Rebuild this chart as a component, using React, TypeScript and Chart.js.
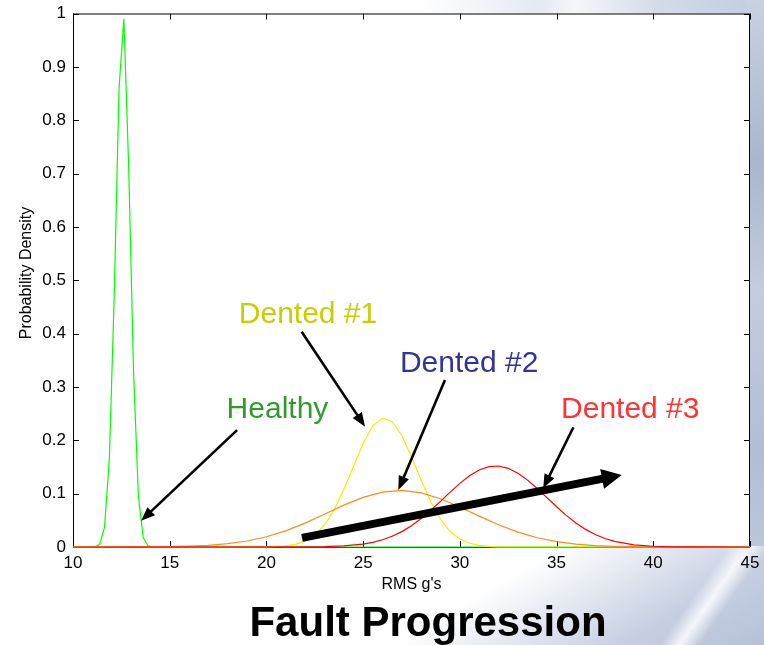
import { useEffect, useRef } from 'react';
import { Chart, registerables } from 'chart.js';

Chart.register(...registerables);

const FONT = "'Liberation Sans', Arial, Helvetica, sans-serif";

// Axis ticks
const xTicks = [10, 15, 20, 25, 30, 35, 40, 45];
const yTicks = [0, 0.1, 0.2, 0.3, 0.4, 0.5, 0.6, 0.7, 0.8, 0.9, 1];
const yTickLabels = ['0', '0.1', '0.2', '0.3', '0.4', '0.5', '0.6', '0.7', '0.8', '0.9', '1'];

// Probability density of RMS g's for each bearing condition
const healthyX = [10, 11.13, 11.38, 11.63, 11.88, 12.13, 12.38, 12.63, 12.88, 13.13, 13.38, 13.63, 13.88, 14.13, 45];
const healthyY = [0, 0, 0.005, 0.037, 0.166, 0.47, 0.86, 0.99, 0.71, 0.33, 0.095, 0.018, 0.002, 0, 0];

const dented1X = [10, 20, 21, 21.5, 22, 22.5, 23, 23.5, 24, 24.5, 25, 25.5, 26, 26.5, 27, 27.5, 28, 28.5, 29, 29.5, 30, 30.5, 31, 31.5, 32, 45];
const dented1Y = [0, 0, 0.002, 0.005, 0.011, 0.022, 0.041, 0.07, 0.108, 0.151, 0.194, 0.227, 0.2415, 0.235, 0.209, 0.169, 0.125, 0.084, 0.052, 0.029, 0.015, 0.007, 0.003, 0.001, 0, 0];

const dented2X = [10, 13, 14, 15, 16, 17, 18, 19, 20, 21, 22, 23, 24, 25, 26, 27, 28, 29, 30, 31, 32, 33, 34, 35, 36, 37, 38, 39, 40, 41, 45];
const dented2Y = [0, 0.0001, 0.0003, 0.0007, 0.0015, 0.0031, 0.0062, 0.0113, 0.0192, 0.0303, 0.0447, 0.0614, 0.0784, 0.0931, 0.103, 0.106, 0.1015, 0.0904, 0.075, 0.0579, 0.0416, 0.0278, 0.0173, 0.01, 0.0054, 0.0027, 0.0013, 0.0006, 0.0002, 0.0001, 0];

const dented3X = [10, 22, 23, 24, 25, 25.5, 26, 26.5, 27, 27.5, 28, 28.5, 29, 29.5, 30, 30.5, 31, 31.5, 32, 32.5, 33, 33.5, 34, 34.5, 35, 35.5, 36, 36.5, 37, 37.5, 38, 39, 40, 41, 42, 45];
const dented3Y = [0, 0.0002, 0.0006, 0.002, 0.0055, 0.0088, 0.0135, 0.0201, 0.0288, 0.0399, 0.0533, 0.0688, 0.0856, 0.1029, 0.1193, 0.1336, 0.1444, 0.1507, 0.1518, 0.1475, 0.1384, 0.1254, 0.1096, 0.0925, 0.0754, 0.0593, 0.045, 0.033, 0.0233, 0.0159, 0.0105, 0.0041, 0.0014, 0.0004, 0.0001, 0];

// Callout labels (data coordinates: centre x, baseline y)
const labelText = ['Healthy', 'Dented #1', 'Dented #2', 'Dented #3'];
const labelX = [20.57, 22.15, 30.48, 38.81];
const labelY = [0.2418, 0.42, 0.3286, 0.2412];
const labelColor = ['#339a2e', '#c6d000', '#333399', '#ff3333'];

// Callout arrows, tail -> head (data coordinates)
const arrowX1 = [18.48, 21.82, 29.23, 35.87];
const arrowY1 = [0.219, 0.4036, 0.313, 0.2244];
const arrowX2 = [13.52, 25.1, 26.82, 34.31];
const arrowY2 = [0.049, 0.2255, 0.107, 0.11];

// Fault progression trend arrow
const trendX = [21.84, 38.37];
const trendY = [0.017, 0.135];

const toPoints = (xs: number[], ys: number[]) => xs.map((x, i) => ({ x, y: ys[i] }));

function drawArrow(
  ctx: CanvasRenderingContext2D,
  x1: number, y1: number, x2: number, y2: number,
  width: number, headLen: number, headHalf: number,
) {
  const ang = Math.atan2(y2 - y1, x2 - x1);
  const bx = x2 - headLen * Math.cos(ang);
  const by = y2 - headLen * Math.sin(ang);
  ctx.save();
  ctx.strokeStyle = '#000';
  ctx.fillStyle = '#000';
  ctx.lineWidth = width;
  ctx.lineCap = 'butt';
  ctx.beginPath();
  ctx.moveTo(x1, y1);
  ctx.lineTo(bx + Math.cos(ang) * 1, by + Math.sin(ang) * 1);
  ctx.stroke();
  ctx.beginPath();
  ctx.moveTo(x2, y2);
  ctx.lineTo(bx + headHalf * Math.sin(ang), by - headHalf * Math.cos(ang));
  ctx.lineTo(bx - headHalf * Math.sin(ang), by + headHalf * Math.cos(ang));
  ctx.closePath();
  ctx.fill();
  ctx.restore();
}

const framePlugin = {
  id: 'frame',
  beforeDatasetsDraw(chart: any) {
    const { ctx, chartArea: a, scales } = chart;
    ctx.save();
    ctx.fillStyle = '#fff';
    ctx.fillRect(a.left, a.top, a.right - a.left, a.bottom - a.top);
    ctx.strokeStyle = '#000';
    ctx.lineWidth = 1;
    ctx.strokeRect(a.left + 0.5, a.top + 0.5, a.right - a.left - 1, a.bottom - a.top);
    const tl = 6;
    ctx.beginPath();
    xTicks.forEach((v) => {
      const px = Math.round(scales.x.getPixelForValue(v)) + 0.5;
      ctx.moveTo(px, a.bottom);
      ctx.lineTo(px, a.bottom - tl);
      ctx.moveTo(px, a.top);
      ctx.lineTo(px, a.top + tl);
    });
    yTicks.forEach((v) => {
      const py = Math.round(scales.y.getPixelForValue(v)) + 0.5;
      ctx.moveTo(a.left, py);
      ctx.lineTo(a.left + tl, py);
      ctx.moveTo(a.right, py);
      ctx.lineTo(a.right - tl, py);
    });
    ctx.stroke();
    ctx.restore();
  },
  afterDatasetsDraw(chart: any) {
    const { ctx, chartArea: a, scales } = chart;
    const sx = (v: number) => scales.x.getPixelForValue(v);
    const sy = (v: number) => scales.y.getPixelForValue(v);
    ctx.save();

    // callout arrows
    arrowX1.forEach((_, i) => {
      drawArrow(ctx, sx(arrowX1[i]), sy(arrowY1[i]), sx(arrowX2[i]), sy(arrowY2[i]), 2.6, 14, 5.5);
    });
    // trend arrow
    drawArrow(ctx, sx(trendX[0]), sy(trendY[0]), sx(trendX[1]), sy(trendY[1]), 8, 20, 10);

    // callout labels
    ctx.font = `30px ${FONT}`;
    ctx.textAlign = 'center';
    ctx.textBaseline = 'alphabetic';
    labelText.forEach((t, i) => {
      ctx.fillStyle = labelColor[i];
      ctx.fillText(t, sx(labelX[i]), sy(labelY[i]));
    });

    // axis titles
    ctx.fillStyle = '#000';
    ctx.font = `16px ${FONT}`;
    ctx.textBaseline = 'middle';
    ctx.fillText("RMS g's", (a.left + a.right) / 2, 585);
    ctx.save();
    ctx.translate(27, 273);
    ctx.rotate(-Math.PI / 2);
    ctx.fillText('Probability Density', 0, 0);
    ctx.restore();

    // main caption
    ctx.font = `bold 42px ${FONT}`;
    ctx.textBaseline = 'alphabetic';
    ctx.fillText('Fault Progression', 428, 636);
    ctx.restore();
  },
};

export default function App() {
  const canvasRef = useRef<HTMLCanvasElement | null>(null);

  useEffect(() => {
    const canvas = canvasRef.current;
    if (!canvas) return;
    const line = (label: string, xs: number[], ys: number[], color: string, order: number) => ({
      label,
      data: toPoints(xs, ys),
      borderColor: color,
      backgroundColor: color,
      borderWidth: 1.2,
      pointRadius: 0,
      tension: 0,
      fill: false,
      order,
      clip: 3,
    });
    const chart = new Chart(canvas, {
      type: 'line',
      data: {
        datasets: [
          line('Healthy', healthyX, healthyY, '#00ff00', 4),
          line('Dented #1', dented1X, dented1Y, '#f0f000', 3),
          line('Dented #2', dented2X, dented2Y, '#ff8a1e', 2),
          line('Dented #3', dented3X, dented3Y, '#ff0000', 1),
        ],
      },
      options: {
        animation: false,
        responsive: false,
        maintainAspectRatio: false,
        layout: { padding: { left: 0, right: 14, top: 13.5, bottom: 0 } },
        plugins: { legend: { display: false }, tooltip: { enabled: false }, title: { display: false } },
        scales: {
          x: {
            type: 'linear',
            min: 10,
            max: 45,
            grid: { display: false, drawTicks: false },
            border: { display: false },
            afterBuildTicks: (s: any) => {
              s.ticks = xTicks.map((v) => ({ value: v }));
            },
            ticks: {
              color: '#000',
              font: { family: FONT, size: 17 },
              padding: 6,
              maxRotation: 0,
              autoSkip: false,
              callback: (v: any) => String(v),
            },
            afterFit: (s: any) => {
              s.height = 98;
              s.paddingLeft = 0;
              s.paddingRight = 0;
            },
          },
          y: {
            type: 'linear',
            min: 0,
            max: 1,
            grid: { display: false, drawTicks: false },
            border: { display: false },
            afterBuildTicks: (s: any) => {
              s.ticks = yTicks.map((v) => ({ value: v }));
            },
            ticks: {
              color: '#000',
              font: { family: FONT, size: 17 },
              padding: 7,
              autoSkip: false,
              callback: (_v: any, i: number) => yTickLabels[i],
            },
            afterFit: (s: any) => {
              s.width = 73;
              s.paddingTop = 0;
              s.paddingBottom = 0;
            },
          },
        },
      },
      plugins: [framePlugin],
    } as any);
    return () => chart.destroy();
  }, []);

  return (
    <div
      style={{
        position: 'absolute',
        left: 0,
        top: 0,
        width: 764,
        height: 645,
        overflow: 'hidden',
        background: '#fff',
      }}
    >
      <div
        style={{
          position: 'absolute',
          left: 420,
          top: 0,
          width: 344,
          height: 16,
          background: 'linear-gradient(to right, rgba(225,231,242,0) 0%, #e4e9f2 35%, #f4f6fa 45%, #d3dbe8 70%, #c2cce0 100%)',
        }}
      />
      <div
        style={{
          position: 'absolute',
          left: 746,
          top: 0,
          width: 18,
          height: 645,
          background: 'linear-gradient(to bottom, #c9d1e2 0%, #aab6cc 25%, #c4ccde 45%, #b2bdd4 70%, #c8d0e2 100%)',
        }}
      />
      <div
        style={{
          position: 'absolute',
          left: 360,
          top: 546,
          width: 404,
          height: 99,
          background: 'linear-gradient(150deg, rgba(255,255,255,0) 35%, #e2e7f0 55%, #c6cfe2 75%, #b6c1d8 100%)',
        }}
      />
      <div
        style={{
          position: 'absolute',
          left: 690,
          top: 546,
          width: 40,
          height: 110,
          transform: 'skewX(-35deg)',
          background: 'linear-gradient(to right, rgba(255,255,255,0), rgba(250,251,253,0.9), rgba(255,255,255,0))',
        }}
      />
      <canvas
        ref={canvasRef}
        width={764}
        height={645}
        style={{ position: 'absolute', left: 0, top: 0, width: 764, height: 645 }}
      />
    </div>
  );
}
